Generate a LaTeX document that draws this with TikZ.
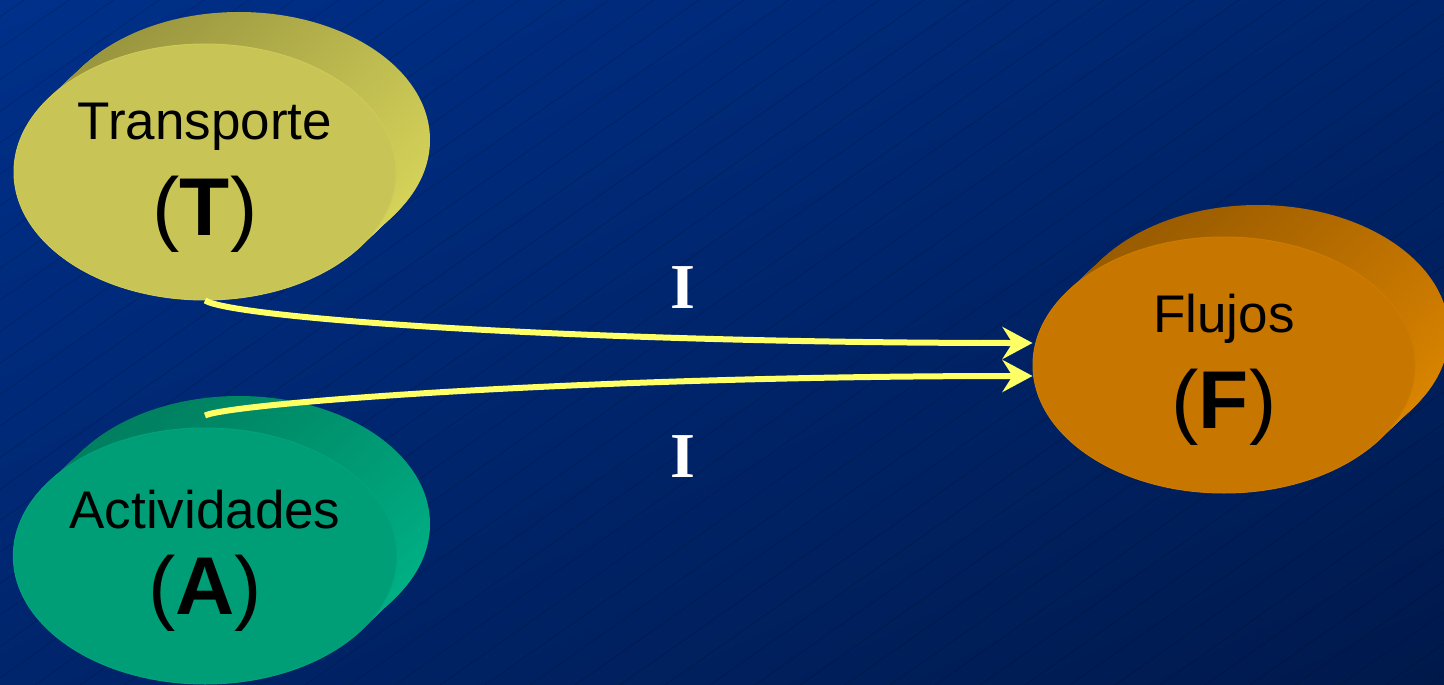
\documentclass[tikz,border=0pt]{standalone}
\usepackage{fontspec}
\setmainfont{Liberation Sans}
\newfontfamily\romana{Liberation Serif}
\usepackage{tikz}
\usetikzlibrary{positioning,arrows.meta,shapes.geometric,calc,shadings}
\definecolor{fondoclaro}{RGB}{0,48,138}
\definecolor{fondomedio}{RGB}{0,37,108}
\definecolor{fondooscuro}{RGB}{0,25,76}
\definecolor{amarillo}{RGB}{255,255,102}
\definecolor{olivo}{RGB}{200,197,86}
\definecolor{olivooscuro}{RGB}{140,136,56}
\definecolor{olivoclaro}{RGB}{224,222,92}
\definecolor{verde}{RGB}{0,158,119}
\definecolor{verdeoscuro}{RGB}{0,118,88}
\definecolor{verdeclaro}{RGB}{0,188,142}
\definecolor{naranja}{RGB}{199,118,0}
\definecolor{naranjaoscuro}{RGB}{140,84,0}
\definecolor{naranjaclaro}{RGB}{230,142,0}
\tikzset{flecha/.style={line width=6pt, draw=amarillo, -{Stealth[length=30pt,width=32pt,inset=10pt]}}}
\tikzset{cara/.style={ellipse, draw, line width=1pt, minimum width=382pt, minimum height=256pt, inner sep=0pt, align=center, text=black}}
\tikzset{etiqueta/.style={font=\romana\bfseries\fontsize{64}{64}\selectfont, text=white}}
\tikzset{rayado/.style={line width=0.5pt, black, opacity=0.22}}
\newcommand\nombre{\fontsize{53}{60}\selectfont\rule{0pt}{48pt}}
\newcommand\letra{\fontsize{82}{96}\selectfont}
% cuerpo de cada disco: elipses apiladas de la cara de atras a la de delante
\newcommand\cuerpo[5]{%
  \foreach \k in {0,...,32}{
    \shade[upper left=#3, upper right=#4, lower left=#4, lower right=#5]
      (#1+34-\k*34/32, #2-32+\k) ellipse [x radius=191, y radius=128];
  }}

\begin{document}
\begin{tikzpicture}[x=1pt, y=-1pt]
            \useasboundingbox (0,0) rectangle (1444,685);
            \shade[upper left=fondoclaro, upper right=fondomedio, lower left=fondomedio, lower right=fondooscuro]
                (0,0) rectangle (1444,685);
            \begin{scope}
                \clip (0,0) rectangle (1444,685);
                \foreach \x in {-1000,-955,...,1444}
                    \draw[rayado] (\x,685) -- (\x+979,0);
            \end{scope}

            \cuerpo{205}{172}{olivooscuro}{olivo!85!olivooscuro}{olivoclaro}
            \cuerpo{205}{556}{verdeoscuro}{verde!85!verdeoscuro}{verdeclaro}
            \cuerpo{1224}{365}{naranjaoscuro}{naranja!85!naranjaoscuro}{naranjaclaro}

            \node[cara, fill=olivo, draw=olivo!80!olivoclaro] (T) at (205,172) {\nombre Transporte\\[25pt]\letra(\textbf{T})};
            \node[cara, fill=verde, draw=verde!80!verdeclaro] (A) at (205,556) {\nombre Actividades\\[25pt]\letra(\textbf{A})};
            \node[cara, fill=naranja, draw=naranja!80!naranjaclaro] (F) at (1224,365) {\nombre Flujos\\[25pt]\letra(\textbf{F})};

            \coordinate (salidaA) at ($(A.north)+(0,-12)$);
            \draw[flecha] (T.south) .. controls +(30,18) and +(-450,0) .. ($(F.west)+(0,-22)$);
            \draw[flecha] (salidaA) .. controls +(25,-12) and +(-450,0) .. ($(F.west)+(0,11)$);

            \node[etiqueta] (i1) at (683,288) {I};
            \node[etiqueta] (i2) at (683,457) {I};
\end{tikzpicture}
\end{document}
